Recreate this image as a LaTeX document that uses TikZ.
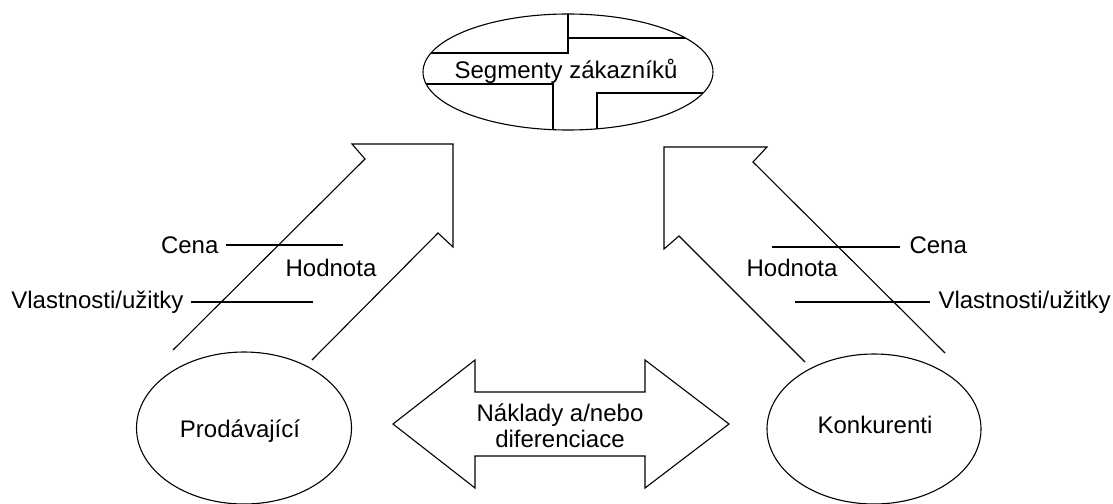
\documentclass[tikz,border=0pt]{standalone}
\usepackage{fontspec}
\setmainfont{Liberation Sans}
\usetikzlibrary{shapes.geometric}

\tikzset{
  oval/.style={draw,ellipse,inner sep=0pt},
  lbl/.style={inner sep=0pt}
}

\begin{document}
\begin{tikzpicture}[x=1pt,y=-1pt,line width=1.1pt,line join=miter,
    font=\fontsize{24}{26}\selectfont]
            \useasboundingbox (0,0) rectangle (1113,503);

            %%% COORDINATES %%%
            \draw (568,72) coordinate (S);
            \draw (226,245) coordinate (cl1);
            \draw (343,245) coordinate (cl2);
            \draw (191,302) coordinate (vl1);
            \draw (313,302) coordinate (vl2);
            \draw (772,247) coordinate (cr1);
            \draw (900,247) coordinate (cr2);
            \draw (795,302) coordinate (vr1);
            \draw (930,302) coordinate (vr2);

            %%% SEGMENTS %%%
            \node[oval,minimum width=290pt,minimum height=116pt] (segmenty) at (S) {};
            \begin{scope}
                \clip (S) ellipse [x radius=145, y radius=58];
                \draw (568,0) -- (568,53) -- (400,53);
                \draw (568,38) -- (720,38);
                \draw (400,84) -- (553,84) -- (553,140);
                \draw (720,93) -- (597,93) -- (597,140);
            \end{scope}
            \node[lbl,anchor=base] (segtext) at (566,78) {Segmenty zákazníků};

            %%% PLAYERS %%%
            \node[oval,minimum width=215pt,minimum height=152pt] (prodavajici) at (244,428) {};
            \node[lbl,anchor=base] at (240,437) {Prodávající};
            \node[oval,minimum width=214pt,minimum height=150pt] (konkurenti) at (874,429) {};
            \node[lbl,anchor=base] at (875,433) {Konkurenti};

            %%% ARROWS %%%
            \draw (173,350) -- (365,159) -- (352,144) -- (453,144) -- (453,247) -- (438,233) -- (312,360);
            \draw (945,353) -- (753,162) -- (767,147) -- (664,147) -- (664,249) -- (679,236) -- (805,362);
            \draw (393,424) -- (475,360) -- (475,392) -- (645,392) -- (645,360) -- (729,424)
                  -- (645,488) -- (645,456) -- (475,456) -- (475,488) -- cycle;
            \node[lbl,align=center] (naklady) at (560,426) {Náklady a/nebo\\diferenciace};

            %%% LABELS %%%
            \draw (cl1) -- (cl2);
            \draw (vl1) -- (vl2);
            \draw (cr1) -- (cr2);
            \draw (vr1) -- (vr2);
            \node[lbl,anchor=base east] (cenaL) at (219,253) {Cena};
            \node[lbl,anchor=base] (hodnotaL) at (331,276) {Hodnota};
            \node[lbl,anchor=base east] (vlastnostiL) at (184,308) {Vlastnosti/užitky};
            \node[lbl,anchor=base west] (cenaR) at (909,253) {Cena};
            \node[lbl,anchor=base] (hodnotaR) at (792,276) {Hodnota};
            \node[lbl,anchor=base west] (vlastnostiR) at (938,308) {Vlastnosti/užitky};
\end{tikzpicture}
\end{document}
